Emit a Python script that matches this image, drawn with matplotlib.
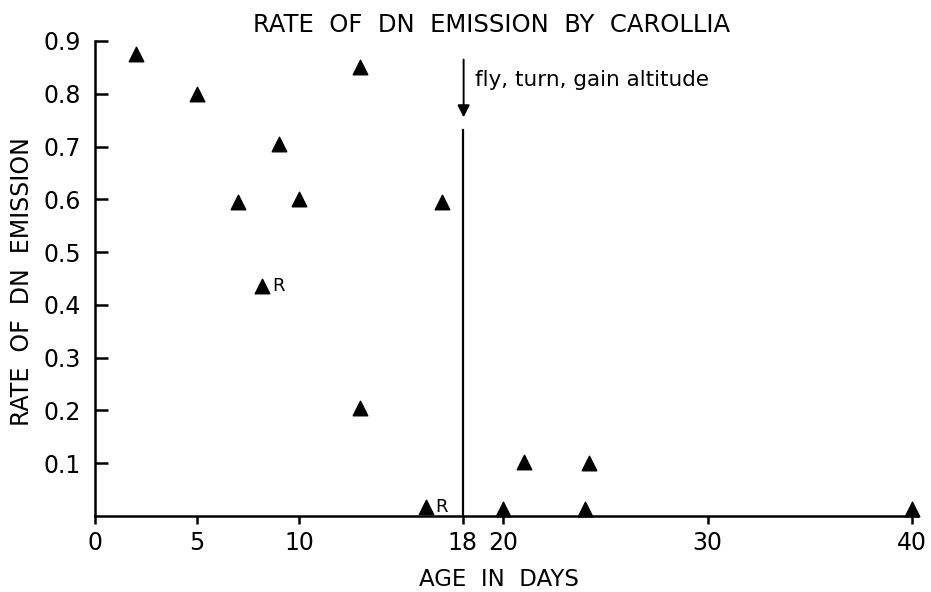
import numpy as np
import matplotlib
matplotlib.use("Agg")
import matplotlib.pyplot as plt

# age in days and rate of DN emission
age = [2, 5, 7, 9, 10, 13, 17, 8.2, 13, 16.2, 20, 21, 24.2, 24, 40]
rate = [0.875, 0.80, 0.595, 0.705, 0.60, 0.85, 0.595, 0.435, 0.205, 0.018,
        0.013, 0.103, 0.10, 0.013, 0.013]
r_labels = ["", "", "", "", "", "", "", "R", "", "R", "", "", "", "", ""]

x_ticks = [0, 5, 10, 18, 20, 30, 40]
y_ticks = [0.1, 0.2, 0.3, 0.4, 0.5, 0.6, 0.7, 0.8, 0.9]
y_tick_labels = ["0.1", "0.2", "0.3", "0.4", "0.5", "0.6", "0.7", "0.8", "0.9"]

plt.rcParams["font.family"] = ["DejaVu Sans"]

fig = plt.figure(figsize=(9.31, 5.92), dpi=100)
ax = fig.add_axes([95 / 931, 1 - 516 / 592, (918 - 95) / 931, (516 - 41) / 592])

ax.scatter(age, rate, marker="^", s=110, color="black", zorder=3, clip_on=False)
for x, y, lab in zip(age, rate, r_labels):
    if lab:
        ax.annotate(lab, (x, y), xytext=(7, 0), textcoords="offset points",
                    va="center", ha="left", fontsize=13)

# onset of flight
ax.plot([18, 18], [0, 0.731], color="black", lw=1.6)
ax.annotate("", xy=(18.05, 0.75), xytext=(18.05, 0.87),
            arrowprops=dict(arrowstyle="-|>", color="black", lw=1.4,
                            mutation_scale=18))
ax.text(18.6, 0.826, "fly, turn, gain altitude", fontsize=15.5, va="center")

ax.set_xlim(0, 40.3)
ax.set_ylim(0, 0.9)
ax.set_xticks(x_ticks)
ax.set_yticks(y_ticks)
ax.set_yticklabels(y_tick_labels)
ax.spines["top"].set_visible(False)
ax.spines["right"].set_visible(False)
ax.spines["left"].set_linewidth(1.8)
ax.spines["bottom"].set_linewidth(1.8)
ax.tick_params(axis="y", direction="in", length=9, width=1.8, labelsize=17, pad=10)
ax.tick_params(axis="x", direction="out", length=6, width=1.8, labelsize=17, pad=5)

fig.text(492 / 931, 1 - 25 / 592, "RATE  OF  DN  EMISSION  BY  CAROLLIA",
         ha="center", va="center", fontsize=17.5)
fig.text(499 / 931, 1 - 580 / 592, "AGE  IN  DAYS", ha="center", va="center",
         fontsize=16.5)
fig.text(22 / 931, 1 - 282 / 592, "RATE  OF  DN  EMISSION", ha="center",
         va="center", rotation=90, fontsize=17)

fig.savefig("out.png", dpi=100)
